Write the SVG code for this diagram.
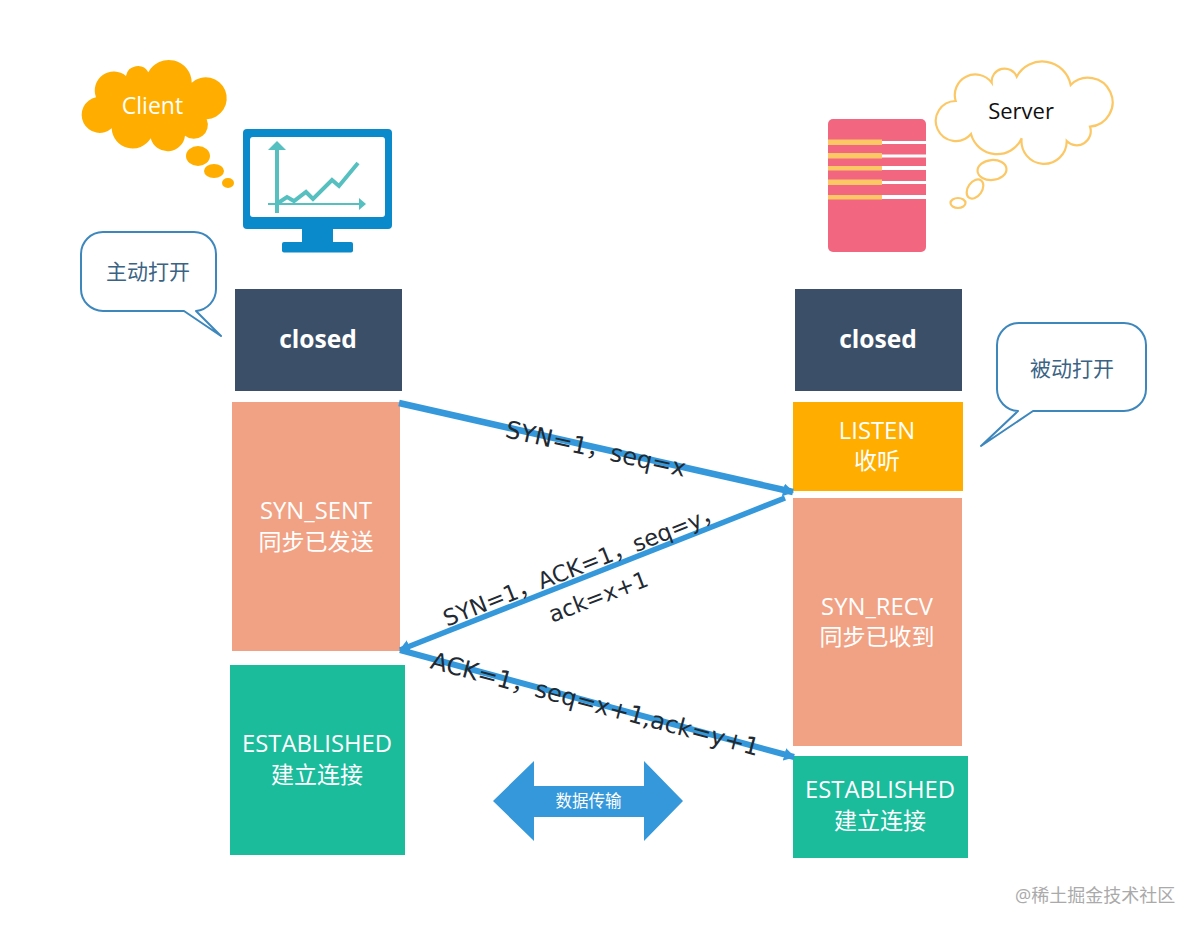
<svg xmlns="http://www.w3.org/2000/svg" width="1200" height="931" viewBox="0 0 1200 931">
<defs>
<style>
text{font-family:"Open Sans","Noto Sans CJK SC",sans-serif}
.st{fill:#fff;font-size:23px;text-anchor:middle}
.en{font-size:23.800px}
.cl{fill:#fff;font-size:24.600px;font-weight:700;text-anchor:middle}
.lb{fill:#1f2a33;font-family:"DejaVu Sans","Noto Sans CJK SC",sans-serif;font-size:24px;text-anchor:middle}
.call{fill:#fff;stroke:#3d87bd;stroke-width:2;stroke-linejoin:round}
.ct{fill:#3a6384;font-size:21px;text-anchor:middle}
.conn{stroke:#3498db;fill:none}
.sy{fill:#fcc866}.sw{fill:#fff}
.sc{fill:#fff;stroke:#fcc866;stroke-width:2.200}
.teal{stroke:#56bfc0;fill:none}
</style>
<marker id="ah" viewBox="0 0 10 10" refX="9" refY="5" markerWidth="11" markerHeight="13" markerUnits="userSpaceOnUse" orient="auto" preserveAspectRatio="none"><path d="M0 0L10 5L0 10Z" fill="#3498db"/></marker>
</defs>
<rect width="1200" height="931" fill="#fff"/>

<g id="client-cloud" fill="#ffae00">
<path d="M96 97.300A19 19 0 0 1 126 76A12 12 0 0 1 148.300 72.300A23 23 0 0 1 191.700 82.700A21 21 0 1 1 206.700 119.300A14 14 0 0 1 185 135.700A17.500 17.500 0 0 1 150.700 138.300A21 21 0 0 1 111.700 128.300A18 18 0 1 1 96 97.300Z"/>
<ellipse cx="198" cy="156" rx="12" ry="10"/><ellipse cx="214" cy="171" rx="10" ry="7"/><ellipse cx="228" cy="183" rx="6" ry="5"/>
<text x="152.500" y="114" style="fill:#fff;font-size:23px;text-anchor:middle">Client</text>
</g>

<g id="client-monitor">
<rect x="243" y="129" width="149" height="100" rx="4" fill="#0a8acb"/>
<rect x="250" y="137" width="135" height="80" rx="3" fill="#fff"/>
<rect x="302" y="228" width="31" height="15" fill="#0a8acb"/>
<rect x="282" y="242" width="71" height="10.500" rx="2" fill="#0a8acb"/>
<path class="teal" stroke-width="4" d="M277 148V213"/>
<path fill="#56bfc0" d="M277 141L286 150H268Z"/>
<path class="teal" stroke-width="2.200" d="M268 204H361"/>
<path fill="#56bfc0" d="M366 204L359 198V210Z"/>
<path class="teal" stroke-width="4" d="M278 203L287 197L294 201L306 192L313 199L332 180L339 186L358 163"/>
</g>

<g id="callout-active">
<path class="call" d="M103 232H194A22 22 0 0 1 216 254V289A22 22 0 0 1 196 311L221 336L184 311H103A22 22 0 0 1 81 289V254A22 22 0 0 1 103 232Z"/>
<text class="ct" x="148" y="279">主动打开</text>
</g>

<g id="client-closed">
<rect x="235" y="289" width="167" height="102" fill="#3b5068"/>
<text class="cl" x="318" y="348">closed</text>
</g>
<g id="client-syn-sent">
<rect x="232" y="402" width="168" height="249" fill="#f2a284"/>
<text class="st en" x="316" y="519">SYN_SENT</text>
<text class="st" x="316" y="550">同步已发送</text>
</g>
<g id="client-established">
<rect x="230" y="665" width="175" height="190" fill="#1abc9c"/>
<text class="st en" x="317" y="752">ESTABLISHED</text>
<text class="st" x="317" y="783">建立连接</text>
</g>

<g id="server-rack">
<rect x="828" y="119" width="98" height="133" rx="5" fill="#f2667f"/>
<rect class="sy" x="828" y="139.500" width="54" height="5.500"/><rect class="sw" x="882" y="141" width="44" height="3"/>
<rect class="sy" x="828" y="153" width="54" height="5.500"/><rect class="sw" x="882" y="154.500" width="44" height="3"/>
<rect class="sy" x="828" y="166" width="54" height="4.500"/><rect class="sw" x="882" y="166" width="44" height="4"/>
<rect class="sy" x="828" y="179.500" width="54" height="5.500"/><rect class="sw" x="882" y="181" width="44" height="3"/>
<rect class="sy" x="828" y="195" width="54" height="4.500"/><rect class="sw" x="882" y="195" width="44" height="4"/>
</g>

<g id="server-cloud">
<path class="sc" d="M955.700 101A20.500 20.500 0 0 1 991.700 82.700A13 13 0 0 1 1016.700 76.700A29 29 0 0 1 1070.700 85A24.500 24.500 0 1 1 1090 126.700A14 14 0 0 1 1066.700 141A22.600 22.600 0 1 1 1021.700 138.300A27 27 0 0 1 971 134A20 20 0 1 1 955.700 101Z"/>
<ellipse class="sc" cx="992" cy="170" rx="14.500" ry="10" transform="rotate(-5 992 170)"/>
<ellipse class="sc" cx="975" cy="189" rx="10.500" ry="7" transform="rotate(-55 975 189)"/>
<ellipse class="sc" cx="958" cy="203" rx="7.500" ry="5"/>
<text x="1021" y="119" style="fill:#111;font-size:22px;text-anchor:middle">Server</text>
</g>

<g id="server-closed">
<rect x="795" y="289" width="167" height="102" fill="#3b5068"/>
<text class="cl" x="878" y="348">closed</text>
</g>
<g id="server-listen">
<rect x="793" y="402" width="170" height="89" fill="#ffae00"/>
<text class="st en" x="877" y="439">LISTEN</text>
<text class="st" x="877" y="469">收听</text>
</g>
<g id="server-syn-recv">
<rect x="793" y="498" width="169" height="248" fill="#f2a284"/>
<text class="st en" x="877" y="615">SYN_RECV</text>
<text class="st" x="877" y="645">同步已收到</text>
</g>
<g id="server-established">
<rect x="793" y="756" width="175" height="102" fill="#1abc9c"/>
<text class="st en" x="880" y="798">ESTABLISHED</text>
<text class="st" x="880" y="829">建立连接</text>
</g>

<g id="callout-passive">
<path class="call" d="M1019 323H1124A22 22 0 0 1 1146 345V389A22 22 0 0 1 1124 411H1033L981 446L1018 411A22 22 0 0 1 997 389V345A22 22 0 0 1 1019 323Z"/>
<text class="ct" x="1072" y="376">被动打开</text>
</g>

<g id="connectors">
<path class="conn" stroke-width="6.500" marker-end="url(#ah)" d="M399 403L793 492"/>
<path class="conn" stroke-width="5.500" marker-end="url(#ah)" d="M785 498L400 650"/>
<path class="conn" stroke-width="6" marker-end="url(#ah)" d="M400 650L794 757"/>
</g>

<g id="labels">
<text class="lb" transform="translate(594 457) rotate(12.500)">SYN=1，seq=x</text>
<text class="lb" style="font-size:22.700px" transform="translate(586 572) rotate(-21.500)">SYN=1，ACK=1，seq=y，</text>
<text class="lb" style="font-size:22.500px" transform="translate(601 604) rotate(-21)">ack=x+1</text>
<text class="lb" transform="translate(593 712) rotate(15)">ACK=1，seq=x+1,ack=y+1</text>
</g>

<g id="data-transfer">
<path fill="#3498db" d="M493 801L534 761V786H644V761L683 801L644 841V817H534V841Z"/>
<text x="588.500" y="807" style="fill:#fff;font-size:16.500px;text-anchor:middle">数据传输</text>
</g>

<text id="watermark" x="1015" y="902" style="fill:#aaa;font-size:18px">@稀土掘金技术社区</text>
</svg>
